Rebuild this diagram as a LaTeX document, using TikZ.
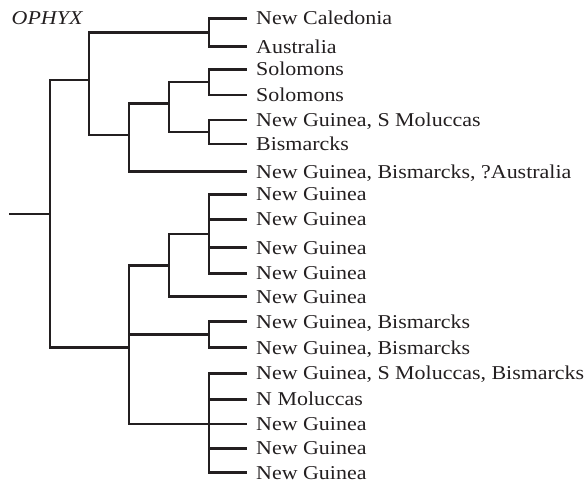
\documentclass[tikz,border=0pt]{standalone}
\usepackage{fontspec}
\setmainfont{Liberation Serif}[FakeStretch=1.12]
\definecolor{ink}{HTML}{231F20}
\tikzset{
  branch/.style={draw=ink, line width=2.5pt},
  tip/.style={anchor=west, inner xsep=9pt, inner ysep=0pt, text=ink,
    text height=13pt, text depth=0pt,
    font=\fontsize{19.6}{22}\selectfont},
  genus/.style={anchor=base west, inner sep=0pt, text=ink,
    font=\fontsize{19.6}{22}\selectfont\itshape},
}
\begin{document}
\begin{tikzpicture}[x=1pt, y=-1pt]
\useasboundingbox (0,0) rectangle (588,483);

\node[genus] (genus) at (11.5,24) {OPHYX};

% terminal taxa
\node[tip] (t1)  at (247,18.3)  {New Caledonia};
\node[tip] (t2)  at (247,46.7)  {Australia};
\node[tip] (t3)  at (247,69.3)  {Solomons};
\node[tip] (t4)  at (247,95)    {Solomons};
\node[tip] (t5)  at (247,120)   {New Guinea, S Moluccas};
\node[tip] (t6)  at (247,144)   {Bismarcks};
\node[tip] (t7)  at (247,171.7) {New Guinea, Bismarcks, ?Australia};
\node[tip] (t8)  at (247,194.3) {New Guinea};
\node[tip] (t9)  at (247,219.3) {New Guinea};
\node[tip] (t10) at (247,247.7) {New Guinea};
\node[tip] (t11) at (247,273.3) {New Guinea};
\node[tip] (t12) at (247,296.7) {New Guinea};
\node[tip] (t13) at (247,321.7) {New Guinea, Bismarcks};
\node[tip] (t14) at (247,347.7) {New Guinea, Bismarcks};
\node[tip] (t15) at (247,373.3) {New Guinea, S Moluccas, Bismarcks};
\node[tip] (t16) at (247,399.3) {N Moluccas};
\node[tip] (t17) at (247,424)   {New Guinea};
\node[tip] (t18) at (247,448.3) {New Guinea};
\node[tip] (t19) at (247,472.7) {New Guinea};

% internal nodes
\coordinate (stem) at (9,214);
\coordinate (r0) at (50,214);
\coordinate (A)  at (89,80);
\coordinate (a1) at (209,32.5);
\coordinate (a2) at (129,135);
\coordinate (a3) at (169,103.3);
\coordinate (a4) at (209,82.2);
\coordinate (a5) at (209,132);
\coordinate (B)  at (129,347.7);
\coordinate (b1) at (169,265.7);
\coordinate (b4) at (209,234);
\coordinate (b2) at (209,334.7);
\coordinate (b3) at (209,424);

% branches
\draw[branch] (stem) -- (r0);
\draw[branch] (r0) |- (A);
\draw[branch] (r0) |- (B);
\draw[branch] (A) |- (a1);
\draw[branch] (A) |- (a2);
\draw[branch] (a1) |- (t1.west);
\draw[branch] (a1) |- (t2.west);
\draw[branch] (a2) |- (a3);
\draw[branch] (a2) |- (t7.west);
\draw[branch] (a3) |- (a4);
\draw[branch] (a3) |- (a5);
\draw[branch] (a4) |- (t3.west);
\draw[branch] (a4) |- (t4.west);
\draw[branch] (a5) |- (t5.west);
\draw[branch] (a5) |- (t6.west);
\draw[branch] (B) |- (b1);
\draw[branch] (B) |- (b2);
\draw[branch] (B) |- (b3);
\draw[branch] (b1) |- (b4);
\draw[branch] (b1) |- (t12.west);
\foreach \t in {t8,t9,t10,t11} \draw[branch] (b4) |- (\t.west);
\foreach \t in {t13,t14} \draw[branch] (b2) |- (\t.west);
\foreach \t in {t15,t16,t17,t18,t19} \draw[branch] (b3) |- (\t.west);
\end{tikzpicture}
\end{document}
